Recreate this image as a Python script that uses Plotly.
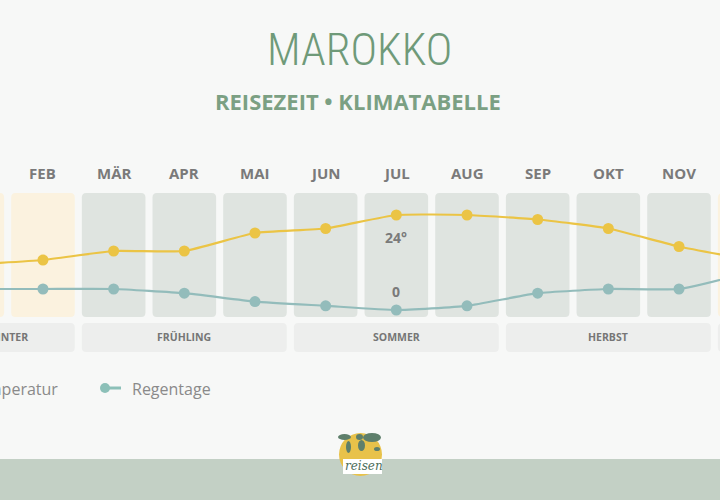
import plotly.graph_objects as go

# ---- data ----
months = ["JAN", "FEB", "MÄR", "APR", "MAI", "JUN", "JUL", "AUG", "SEP", "OKT", "NOV", "DEZ"]
temperatur = [13, 14, 16, 16, 20, 21, 24, 24, 23, 21, 17, 14]
regentage = [5, 5, 5, 4, 2, 1, 0, 1, 4, 5, 5, 9]
seasons = [("WINTER", 0, 1), ("FRÜHLING", 2, 4), ("SOMMER", 5, 7), ("HERBST", 8, 10), ("WINTER", 11, 11)]
winter_months = ["JAN", "FEB", "DEZ"]
highlight_month = "JUL"

W, H = 720, 500
BG = "#F7F8F7"
YELLOW = "#EBC445"
TEAL = "#93BCBB"
GREEN = "#6F9A79"
GREY = "#7A7A7A"


def py(p):
    return 1 - p / H


def rrect(x0, x1, y0, y1, rx, ry):
    return (f"M {x0+rx},{y0} L {x1-rx},{y0} Q {x1},{y0} {x1},{y0-ry} "
            f"L {x1},{y1+ry} Q {x1},{y1} {x1-rx},{y1} L {x0+rx},{y1} "
            f"Q {x0},{y1} {x0},{y1+ry} L {x0},{y0-ry} Q {x0},{y0} {x0+rx},{y0} Z")


def ann(x, y, text, font, xref="paper", xanchor="center"):
    return dict(x=x, y=y, xref=xref, yref="paper", text=text, showarrow=False,
                xanchor=xanchor, yanchor="middle", font=font)


x = list(range(len(months)))
fig = go.Figure()

fig.add_trace(go.Scatter(
    x=x, y=temperatur, mode="lines+markers", name="Temperatur",
    line=dict(color=YELLOW, width=2.2, shape="spline", smoothing=0.45),
    marker=dict(color=YELLOW, size=11), yaxis="y", hoverinfo="skip"))
fig.add_trace(go.Scatter(
    x=x, y=regentage, mode="lines+markers", name="Regentage",
    line=dict(color=TEAL, width=2.2, shape="spline", smoothing=0.45),
    marker=dict(color=TEAL, size=11), yaxis="y2", hoverinfo="skip"))

shapes = []
annotations = []
rx, ry = 0.06, 0.009
hw = 0.45
# month columns
for i, m in enumerate(months):
    col = "#FBF2DF" if m in winter_months else "#DFE4E0"
    shapes.append(dict(type="path", xref="x", yref="paper", layer="below",
                       path=rrect(i - hw, i + hw, py(193), py(317), rx, ry),
                       fillcolor=col, line=dict(width=0)))
# season bars
for name, a, b in seasons:
    shapes.append(dict(type="path", xref="x", yref="paper", layer="below",
                       path=rrect(a - hw, b + hw, py(323), py(352), rx, ry),
                       fillcolor="#EDEEED", line=dict(width=0)))
    annotations.append(ann((a + b) / 2, py(337), name,
                           dict(family="Open Sans", size=10.5, color="#767676", weight="bold"), xref="x"))

# month labels
for i, m in enumerate(months):
    annotations.append(ann(i, py(173), m, dict(family="Open Sans", size=15, color=GREY, weight="bold"), xref="x"))

# highlighted values
hi = months.index(highlight_month)
annotations.append(ann(hi, py(237), f"{temperatur[hi]}°",
                       dict(family="Open Sans", size=14, color=GREY, weight="bold"), xref="x"))
annotations.append(ann(hi, py(291), f"{regentage[hi]}",
                       dict(family="Open Sans", size=14, color=GREY, weight="bold"), xref="x"))

# titles
annotations.append(ann(0.499, py(50), "MAROKKO",
                       dict(family="Liberation Sans Narrow, Roboto Condensed, Roboto", size=45, color=GREEN, weight=300)))
annotations.append(ann(0.497, py(101), "REISEZEIT • KLIMATABELLE",
                       dict(family="Open Sans", size=22, color="#7BA083", weight="bold")))

# legend
annotations.append(ann(60 / W, py(389), "Temperatur", dict(family="Open Sans", size=16, color="#8A8A8A"), xanchor="right"))
annotations.append(ann(130 / W, py(389), "Regentage", dict(family="Open Sans", size=16, color="#8A8A8A"), xanchor="left"))
shapes.append(dict(type="line", xref="paper", yref="paper", x0=105 / W, x1=121 / W, y0=py(388), y1=py(388),
                   line=dict(color="#8CC0B8", width=3)))
shapes.append(dict(type="circle", xref="paper", yref="paper", x0=100 / W, x1=110 / W, y0=py(393), y1=py(383),
                   fillcolor="#8CC0B8", line=dict(width=0)))

# footer band and logo
shapes.append(dict(type="rect", xref="paper", yref="paper", x0=0, x1=1, y0=0, y1=py(459),
                   fillcolor="#C3D0C5", line=dict(width=0)))
shapes.append(dict(type="circle", xref="paper", yref="paper", x0=339 / W, x1=382 / W, y0=py(476), y1=py(433),
                   fillcolor="#E8C24A", line=dict(width=0)))
for (ax0, ay0, ax1, ay1) in [(338, 434, 351, 440), (346, 441, 351, 453), (356, 434, 363, 440),
                             (358, 440, 365, 451), (363, 433, 381, 442), (374, 447, 380, 451)]:
    shapes.append(dict(type="circle", xref="paper", yref="paper", x0=ax0 / W, x1=ax1 / W, y0=py(ay1), y1=py(ay0),
                       fillcolor="#5E7F6B", line=dict(width=0)))
shapes.append(dict(type="rect", xref="paper", yref="paper", x0=343 / W, x1=382 / W, y0=py(474), y1=py(459),
                   fillcolor="#FFFFFF", line=dict(width=0)))
annotations.append(ann(364 / W, py(466), "<i>reisen</i>", dict(family="DejaVu Serif", size=12, color="#4E6E5A")))

fig.update_layout(
    width=W, height=H, margin=dict(l=0, r=0, t=0, b=0),
    paper_bgcolor=BG, plot_bgcolor=BG, showlegend=False,
    xaxis=dict(visible=False, range=[0.392, 10.58], fixedrange=True),
    yaxis=dict(visible=False, range=[-39.33, 71.78], fixedrange=True),
    yaxis2=dict(visible=False, range=[-45.24, 73.81], overlaying="y", fixedrange=True),
    shapes=shapes, annotations=annotations,
)

fig.write_html("out.html", config={"displayModeBar": False},
               post_script="document.body.style.margin='0';document.body.style.background='#F7F8F7';")
